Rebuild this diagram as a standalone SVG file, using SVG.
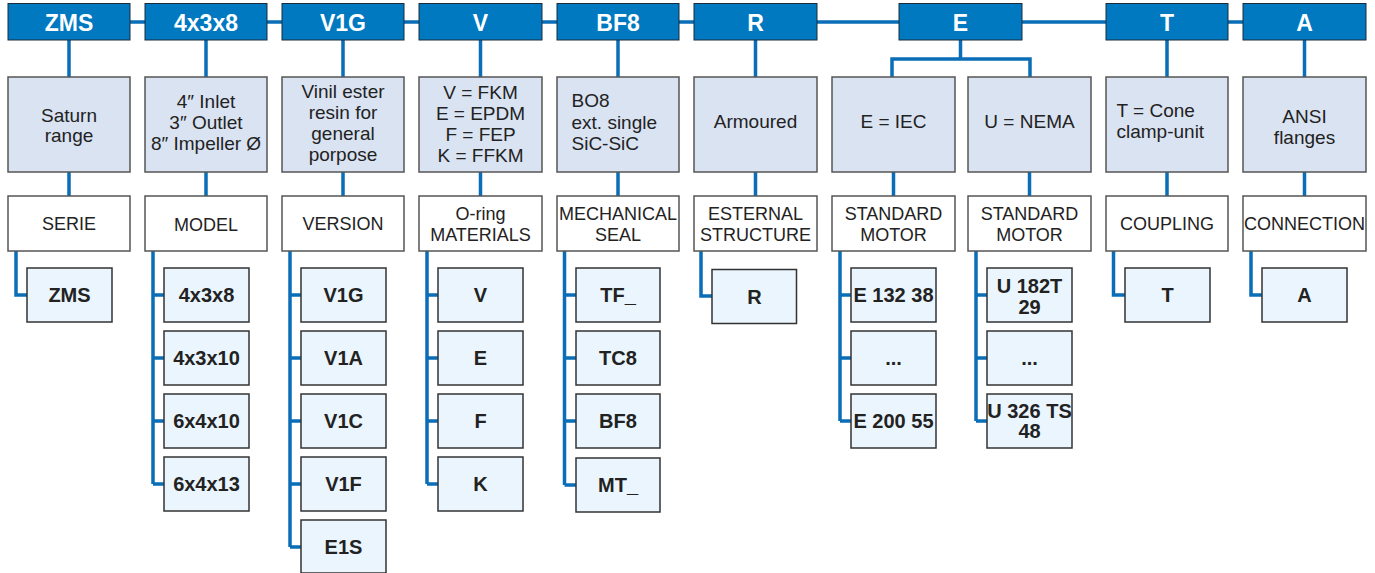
<svg xmlns="http://www.w3.org/2000/svg" width="1375" height="573" viewBox="0 0 1375 573">
<style>
.hdr{fill:#0079c1;stroke:#1b2b3b;stroke-width:1}
.hdt{font-family:"Liberation Sans",Arial,sans-serif;font-weight:bold;font-size:23px;fill:#fff;text-anchor:middle}
.mid{fill:#dae3f2;stroke:#555;stroke-width:1.5}
.lab{fill:#fff;stroke:#555;stroke-width:1.5}
.opt{fill:#eaf5fd;stroke:#333;stroke-width:1.5}
.mt{font-family:"Liberation Sans",Arial,sans-serif;font-size:19px;fill:#222;text-anchor:middle}
.ml{font-family:"Liberation Sans",Arial,sans-serif;font-size:19px;fill:#222}
.lt{font-family:"Liberation Sans",Arial,sans-serif;font-size:18px;fill:#222;text-anchor:middle}
.ot{font-family:"Liberation Sans",Arial,sans-serif;font-weight:bold;font-size:20px;fill:#222;text-anchor:middle}
.ln{fill:none;stroke:#0a6db7;stroke-width:3.5}
</style>
<g id="connectors">
<path class="ln" d="M69 22H1304"/>
<path class="ln" d="M69 40V77M69 172V196M206 40V77M206 172V196M343 40V77M343 172V196M480.5 40V77M480.5 172V196M618 40V77M618 172V196M755.5 40V77M755.5 172V196M1167 40V77M1167 172V196M1304.5 40V77M1304.5 172V196"/>
<path class="ln" d="M960.5 40V59M892 77V59H1030V77M893.5 172V196M1029.5 172V196"/>
<path class="ln" d="M16 251V295H27"/>
<path class="ln" d="M153 251V484M153 295H164M153 358H164M153 421H164M153 484H164"/>
<path class="ln" d="M290 251V547M290 295H301M290 358H301M290 421H301M290 484H301M290 547H301"/>
<path class="ln" d="M427 251V484M427 295H438M427 358H438M427 421H438M427 484H438"/>
<path class="ln" d="M564.5 251V485M564.5 295H576M564.5 358H576M564.5 421H576M564.5 485H576"/>
<path class="ln" d="M701 251V296H712"/>
<path class="ln" d="M840 251V421M840 295H851M840 358H851M840 421H851"/>
<path class="ln" d="M976 251V421M976 295H987M976 358H987M976 421H987"/>
<path class="ln" d="M1113.5 251V295H1125"/>
<path class="ln" d="M1251 251V295H1262"/>
</g>
<g id="h-zms"><rect class="hdr" x="8" y="3.5" width="122" height="36.5"/><text class="hdt" x="69" y="30.5">ZMS</text></g>
<g id="h-model"><rect class="hdr" x="145" y="3.5" width="122" height="36.5"/><text class="hdt" x="206" y="30.5">4x3x8</text></g>
<g id="h-version"><rect class="hdr" x="282" y="3.5" width="122" height="36.5"/><text class="hdt" x="343" y="30.5">V1G</text></g>
<g id="h-oring"><rect class="hdr" x="419" y="3.5" width="123" height="36.5"/><text class="hdt" x="480.5" y="30.5">V</text></g>
<g id="h-seal"><rect class="hdr" x="557" y="3.5" width="122" height="36.5"/><text class="hdt" x="618" y="30.5">BF8</text></g>
<g id="h-struct"><rect class="hdr" x="694" y="3.5" width="123" height="36.5"/><text class="hdt" x="755.5" y="30.5">R</text></g>
<g id="h-motor"><rect class="hdr" x="899" y="3.5" width="123" height="36.5"/><text class="hdt" x="960.5" y="30.5">E</text></g>
<g id="h-coupling"><rect class="hdr" x="1106" y="3.5" width="122" height="36.5"/><text class="hdt" x="1167" y="30.5">T</text></g>
<g id="h-conn"><rect class="hdr" x="1243" y="3.5" width="123" height="36.5"/><text class="hdt" x="1304.5" y="30.5">A</text></g>

<g id="d-zms"><rect class="mid" x="8" y="77" width="122" height="95"/><text class="mt" x="69" y="121.5">Saturn</text><text class="mt" x="69" y="142">range</text></g>
<g id="d-model"><rect class="mid" x="145" y="77" width="122" height="95"/><text class="mt" x="206" y="108">4″ Inlet</text><text class="mt" x="206" y="129">3″ Outlet</text><text class="mt" x="206" y="150">8″ Impeller Ø</text></g>
<g id="d-version"><rect class="mid" x="282" y="77" width="122" height="95"/><text class="mt" x="343" y="97.5">Vinil ester</text><text class="mt" x="343" y="118.5">resin for</text><text class="mt" x="343" y="139.5">general</text><text class="mt" x="343" y="160.5">porpose</text></g>
<g id="d-oring"><rect class="mid" x="419" y="77" width="123" height="95"/><text class="mt" x="480.5" y="99">V = FKM</text><text class="mt" x="480.5" y="120">E = EPDM</text><text class="mt" x="480.5" y="141">F = FEP</text><text class="mt" x="480.5" y="162">K = FFKM</text></g>
<g id="d-seal"><rect class="mid" x="557" y="77" width="122" height="95"/><text class="ml" x="571.5" y="107">BO8</text><text class="ml" x="571.5" y="128.5">ext. single</text><text class="ml" x="571.5" y="150">SiC-SiC</text></g>
<g id="d-struct"><rect class="mid" x="694" y="77" width="123" height="95"/><text class="mt" x="755.5" y="127.5">Armoured</text></g>
<g id="d-iec"><rect class="mid" x="832" y="77" width="123" height="95"/><text class="mt" x="893.5" y="127.5">E = IEC</text></g>
<g id="d-nema"><rect class="mid" x="968" y="77" width="123" height="95"/><text class="mt" x="1029.5" y="127.5">U = NEMA</text></g>
<g id="d-coupling"><rect class="mid" x="1106" y="77" width="122" height="95"/><text class="ml" x="1116.5" y="116.5">T = Cone</text><text class="ml" x="1116.5" y="137.5">clamp-unit</text></g>
<g id="d-conn"><rect class="mid" x="1243" y="77" width="123" height="95"/><text class="mt" x="1304.5" y="123">ANSI</text><text class="mt" x="1304.5" y="143.5">flanges</text></g>

<g id="l-serie"><rect class="lab" x="8" y="196" width="122" height="55"/><text class="lt" x="69" y="230">SERIE</text></g>
<g id="l-model"><rect class="lab" x="145" y="196" width="122" height="55"/><text class="lt" x="206" y="230.5">MODEL</text></g>
<g id="l-version"><rect class="lab" x="282" y="196" width="122" height="55"/><text class="lt" x="343" y="230">VERSION</text></g>
<g id="l-oring"><rect class="lab" x="419" y="196" width="123" height="55"/><text class="lt" x="480.5" y="220">O-ring</text><text class="lt" x="480.5" y="241">MATERIALS</text></g>
<g id="l-seal"><rect class="lab" x="557" y="196" width="122" height="55"/><text class="lt" x="618" y="220">MECHANICAL</text><text class="lt" x="618" y="241">SEAL</text></g>
<g id="l-struct"><rect class="lab" x="694" y="196" width="123" height="55"/><text class="lt" x="755.5" y="220">ESTERNAL</text><text class="lt" x="755.5" y="241">STRUCTURE</text></g>
<g id="l-iec"><rect class="lab" x="832" y="196" width="123" height="55"/><text class="lt" x="893.5" y="220">STANDARD</text><text class="lt" x="893.5" y="241">MOTOR</text></g>
<g id="l-nema"><rect class="lab" x="968" y="196" width="123" height="55"/><text class="lt" x="1029.5" y="220">STANDARD</text><text class="lt" x="1029.5" y="241">MOTOR</text></g>
<g id="l-coupling"><rect class="lab" x="1106" y="196" width="122" height="55"/><text class="lt" x="1167" y="230">COUPLING</text></g>
<g id="l-conn"><rect class="lab" x="1243" y="196" width="123" height="55"/><text class="lt" x="1304.5" y="230">CONNECTION</text></g>

<g id="o-zms"><rect class="opt" x="27" y="268" width="85" height="54"/><text class="ot" x="69.5" y="302">ZMS</text></g>
<g id="o-4x3x8"><rect class="opt" x="164" y="268" width="85" height="54"/><text class="ot" x="206.5" y="302">4x3x8</text></g>
<g id="o-4x3x10"><rect class="opt" x="164" y="331" width="85" height="54"/><text class="ot" x="206.5" y="365">4x3x10</text></g>
<g id="o-6x4x10"><rect class="opt" x="164" y="394" width="85" height="54"/><text class="ot" x="206.5" y="428">6x4x10</text></g>
<g id="o-6x4x13"><rect class="opt" x="164" y="457" width="85" height="54"/><text class="ot" x="206.5" y="491">6x4x13</text></g>
<g id="o-v1g"><rect class="opt" x="301" y="268" width="85" height="54"/><text class="ot" x="343.5" y="302">V1G</text></g>
<g id="o-v1a"><rect class="opt" x="301" y="331" width="85" height="54"/><text class="ot" x="343.5" y="365">V1A</text></g>
<g id="o-v1c"><rect class="opt" x="301" y="394" width="85" height="54"/><text class="ot" x="343.5" y="428">V1C</text></g>
<g id="o-v1f"><rect class="opt" x="301" y="457" width="85" height="54"/><text class="ot" x="343.5" y="491">V1F</text></g>
<g id="o-e1s"><rect class="opt" x="301" y="520" width="85" height="53"/><text class="ot" x="343.5" y="554">E1S</text></g>
<g id="o-v"><rect class="opt" x="438" y="268" width="85" height="54"/><text class="ot" x="480.5" y="302">V</text></g>
<g id="o-e"><rect class="opt" x="438" y="331" width="85" height="54"/><text class="ot" x="480.5" y="365">E</text></g>
<g id="o-f"><rect class="opt" x="438" y="394" width="85" height="54"/><text class="ot" x="480.5" y="428">F</text></g>
<g id="o-k"><rect class="opt" x="438" y="457" width="85" height="54"/><text class="ot" x="480.5" y="491">K</text></g>
<g id="o-tf"><rect class="opt" x="576" y="268" width="84" height="54"/><text class="ot" x="618" y="302">TF_</text></g>
<g id="o-tc8"><rect class="opt" x="576" y="331" width="84" height="54"/><text class="ot" x="618" y="365">TC8</text></g>
<g id="o-bf8"><rect class="opt" x="576" y="394" width="84" height="54"/><text class="ot" x="618" y="428">BF8</text></g>
<g id="o-mt"><rect class="opt" x="576" y="458" width="84" height="54"/><text class="ot" x="618" y="492">MT_</text></g>
<g id="o-r"><rect class="opt" x="712" y="269.5" width="84.5" height="54"/><text class="ot" x="754.5" y="303.5">R</text></g>
<g id="o-e13238"><rect class="opt" x="851" y="268" width="85" height="54"/><text class="ot" x="893.5" y="302">E 132 38</text></g>
<g id="o-edots"><rect class="opt" x="851" y="331" width="85" height="54"/><text class="ot" x="893.5" y="365">...</text></g>
<g id="o-e20055"><rect class="opt" x="851" y="394" width="85" height="54"/><text class="ot" x="893.5" y="428">E 200 55</text></g>
<g id="o-u182"><rect class="opt" x="987" y="268" width="85" height="54"/><text class="ot" x="1029.5" y="293">U 182T</text><text class="ot" x="1029.5" y="313.5">29</text></g>
<g id="o-udots"><rect class="opt" x="987" y="331" width="85" height="54"/><text class="ot" x="1029.5" y="365">...</text></g>
<g id="o-u326"><rect class="opt" x="987" y="394" width="85" height="54"/><text class="ot" x="1029.5" y="417.5">U 326 TS</text><text class="ot" x="1029.5" y="438">48</text></g>
<g id="o-t"><rect class="opt" x="1125" y="268" width="85" height="54"/><text class="ot" x="1167.5" y="302">T</text></g>
<g id="o-a"><rect class="opt" x="1262" y="268" width="85" height="54"/><text class="ot" x="1304.5" y="302">A</text></g>
</svg>
